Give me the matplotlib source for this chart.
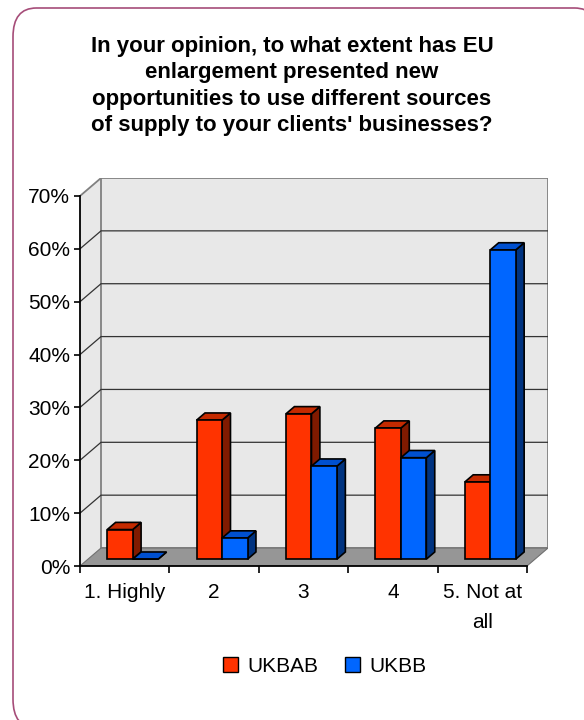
import matplotlib
matplotlib.use("Agg")
import matplotlib.pyplot as plt
from matplotlib.patches import Polygon, Patch, FancyBboxPatch

plt.rcParams['font.family'] = ['Liberation Sans', 'DejaVu Sans']

# data
categories = ['1. Highly', '2', '3', '4', '5. Not at\nall']
ukbab = [5.6, 26.3, 27.5, 24.8, 14.6]
ukbb = [0.0, 4.0, 17.6, 19.2, 58.5]
series_names = ['UKBAB', 'UKBB']
title = ("In your opinion, to what extent has EU\n"
         "enlargement presented new\n"
         "opportunities to use different sources\n"
         "of supply to your clients' businesses?")

# colours: front, side, top
red = ('#FF3300', '#801A00', '#C42A00')
blue = ('#0066FF', '#003380', '#0050D0')

# fake 3d geometry (data units)
DX, DY = 0.235, 3.4      # full depth offset of the wall
F, D = 0.38, 0.40        # bar front position / bar depth as fraction of depth
W = 0.285                # bar width
YMAX = 70

fig = plt.figure(figsize=(5.84, 7.2), dpi=100)

# rounded outer border
border = FancyBboxPatch((13 / 584, 1 - 728 / 720), 585 / 584, 720 / 720,
                        boxstyle="round,pad=0,rounding_size=0.04",
                        transform=fig.transFigure, facecolor='white',
                        edgecolor='#A64D79', linewidth=1.2, zorder=-10)
fig.patches.append(border)

fig.text(0.5, 1 - 86 / 720, title, ha='center', va='center',
         fontsize=16, fontweight='bold', linespacing=1.33)

ax = fig.add_axes([80 / 584, 1 - 566 / 720, 468 / 584, 388 / 720])
ax.set_xlim(0, 5 + DX)
ax.set_ylim(0, YMAX + DY)
ax.patch.set_visible(False)

n = len(categories)
# walls
side = Polygon([(0, 0), (DX, DY), (DX, YMAX + DY), (0, YMAX)],
               facecolor='#E8E8E8', edgecolor='none', zorder=0)
back = Polygon([(DX, DY), (n + DX, DY), (n + DX, YMAX + DY), (DX, YMAX + DY)],
               facecolor='#E8E8E8', edgecolor='#808080', linewidth=1.3, zorder=0)
ax.add_patch(side)
ax.add_patch(back)
ax.plot([0, DX], [YMAX, YMAX + DY], color='#808080', lw=1.3, zorder=1)
for v in range(10, YMAX, 10):
    ax.plot([0, DX, n + DX], [v, v + DY, v + DY], color='#333333', lw=0.9, zorder=1)
floor = Polygon([(0, 0), (n, 0), (n + DX, DY), (DX, DY)],
                facecolor='#969696', edgecolor='#707070', linewidth=0.8, zorder=1)
ax.add_patch(floor)


def bar3d(x0, h, cols):
    # x0 is the left edge of the bar in the front plane
    xs, ys = x0 + F * DX, F * DY
    dx, dy = D * DX, D * DY
    ax.add_patch(Polygon([(xs + W, ys), (xs + W + dx, ys + dy),
                          (xs + W + dx, ys + h + dy), (xs + W, ys + h)],
                         facecolor=cols[1], edgecolor='black', lw=1.2, zorder=3))
    ax.add_patch(Polygon([(xs, ys + h), (xs + dx, ys + h + dy),
                          (xs + W + dx, ys + h + dy), (xs + W, ys + h)],
                         facecolor=cols[2], edgecolor='black', lw=1.2, zorder=3))
    ax.bar(xs, h, bottom=ys, width=W, align='edge', color=cols[0],
           edgecolor='black', linewidth=1.2, zorder=3)


for i in range(n):
    bar3d(i + 0.5 - W, ukbab[i], red)
    bar3d(i + 0.5, ukbb[i], blue)

# axes lines and ticks
for s in ['top', 'right']:
    ax.spines[s].set_visible(False)
ax.spines['left'].set_bounds(0, YMAX)
ax.spines['bottom'].set_bounds(0, n)
ax.spines['left'].set_linewidth(1.3)
ax.spines['bottom'].set_linewidth(1.3)
ax.spines['left'].set_zorder(5)
ax.spines['bottom'].set_zorder(5)

ax.set_yticks(range(0, YMAX + 1, 10))
ax.set_yticklabels([f'{v}%' for v in range(0, YMAX + 1, 10)], fontsize=15)
ax.tick_params(axis='y', length=4, width=1.2, pad=3)

ax.set_xticks(range(n + 1))
ax.set_xticklabels([''] * (n + 1))
ax.tick_params(axis='x', which='major', length=5, width=1.2)
ax.set_xticks([i + 0.5 for i in range(n)], minor=True)
ax.set_xticklabels(categories, minor=True, fontsize=15)
ax.tick_params(axis='x', which='minor', length=0, pad=12)
for lab in ax.get_xticklabels(minor=True):
    lab.set_linespacing(1.75)

handles = [Patch(facecolor=red[0], edgecolor='black'),
           Patch(facecolor=blue[0], edgecolor='black')]
fig.legend(handles, series_names, loc='center', bbox_to_anchor=(325 / 584, 1 - 666 / 720),
           ncol=2, frameon=False, fontsize=15, handlelength=0.7, handleheight=0.7,
           handletextpad=0.45, columnspacing=1.3)

fig.savefig('out.png', dpi=100)
